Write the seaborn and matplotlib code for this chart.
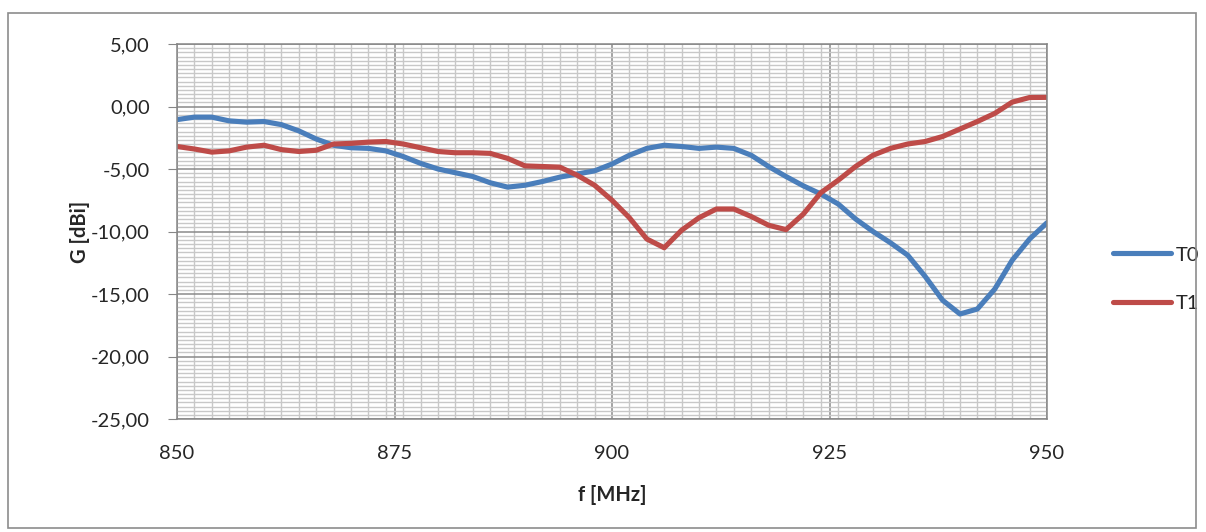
import numpy as np
import pandas as pd
import seaborn as sns
import matplotlib.pyplot as plt
from matplotlib.ticker import MultipleLocator, FuncFormatter
from matplotlib.patches import Rectangle

# frequency [MHz], sampled every 2 MHz
freq = list(range(850, 951, 2))

# gain T0 [dBi]
t0 = [-1.05, -0.85, -0.85, -1.15, -1.25, -1.2, -1.45, -1.95, -2.6, -3.1,
      -3.3, -3.35, -3.55, -4.0, -4.55, -5.0, -5.3, -5.6, -6.1, -6.45,
      -6.3, -6.0, -5.65, -5.4, -5.15, -4.6, -3.9, -3.35, -3.1, -3.2,
      -3.35, -3.25, -3.35, -3.9, -4.8, -5.6, -6.35, -7.0, -7.8, -9.0,
      -10.0, -10.9, -11.9, -13.6, -15.5, -16.6, -16.2, -14.6, -12.3, -10.6,
      -9.3]

# gain T1 [dBi]
t1 = [-3.2, -3.4, -3.65, -3.55, -3.25, -3.1, -3.45, -3.6, -3.5, -3.0,
      -2.95, -2.85, -2.8, -3.0, -3.3, -3.6, -3.7, -3.7, -3.75, -4.15,
      -4.75, -4.8, -4.85, -5.5, -6.3, -7.5, -8.9, -10.6, -11.3, -9.9,
      -8.9, -8.2, -8.2, -8.8, -9.5, -9.85, -8.6, -6.9, -5.9, -4.8,
      -3.9, -3.35, -3.0, -2.8, -2.4, -1.8, -1.2, -0.55, 0.35, 0.72,
      0.73]

df = pd.DataFrame({'f': freq * 2,
                   'G': t0 + t1,
                   'serie': ['T0'] * len(freq) + ['T1'] * len(freq)})

sns.set_style('white')
plt.rcParams['font.family'] = ['Lato', 'DejaVu Sans']

fig = plt.figure(figsize=(12.06, 5.32), dpi=100)
ax = fig.add_axes([177 / 1206, 1 - 419 / 532, 870 / 1206, 375 / 532])

# chart border
fig.patches.append(Rectangle((8 / 1206, 4 / 532), 1188 / 1206, 515 / 532,
                             transform=fig.transFigure, fill=False,
                             edgecolor='#8c8c8c', linewidth=1.2))

sns.lineplot(data=df, x='f', y='G', hue='serie', ax=ax,
             palette={'T0': '#4A7EBB', 'T1': '#BE4B48'},
             linewidth=3.7, solid_joinstyle='round', solid_capstyle='round')

ax.set_xlim(850, 950)
ax.set_ylim(-25, 5)
ax.xaxis.set_major_locator(MultipleLocator(25))
ax.xaxis.set_minor_locator(MultipleLocator(2))
ax.yaxis.set_major_locator(MultipleLocator(5))
ax.yaxis.set_minor_locator(MultipleLocator(5 / 15))
ax.yaxis.set_major_formatter(FuncFormatter(lambda v, p: f'{v:.2f}'.replace('.', ',')))

ax.grid(which='minor', color='#c8c8c8', linewidth=1.0)
ax.grid(which='major', color='#8a8a8a', linewidth=1.1)
ax.set_axisbelow(True)

for s in ax.spines.values():
    s.set_color('#868686')
    s.set_linewidth(1.1)

ax.tick_params(axis='y', which='major', length=6.5, color='#868686',
               labelsize=14.5, pad=13, left=True)
ax.tick_params(axis='y', which='minor', length=0)
ax.tick_params(axis='x', which='both', length=0, labelsize=14.5, pad=19)

ax.set_xlabel('f [MHz]', fontsize=14.5, fontweight='bold', labelpad=16)
ax.set_ylabel('G [dBi]', fontsize=14.5, fontweight='bold')
ax.yaxis.set_label_coords(-0.1, 0.5)

ax.legend(title=None, loc='center left', bbox_to_anchor=(1.055, 0.373),
          frameon=False, fontsize=14.5, handlelength=2.9, handletextpad=0.2,
          labelspacing=1.55)

fig.savefig('out.png', dpi=100)
